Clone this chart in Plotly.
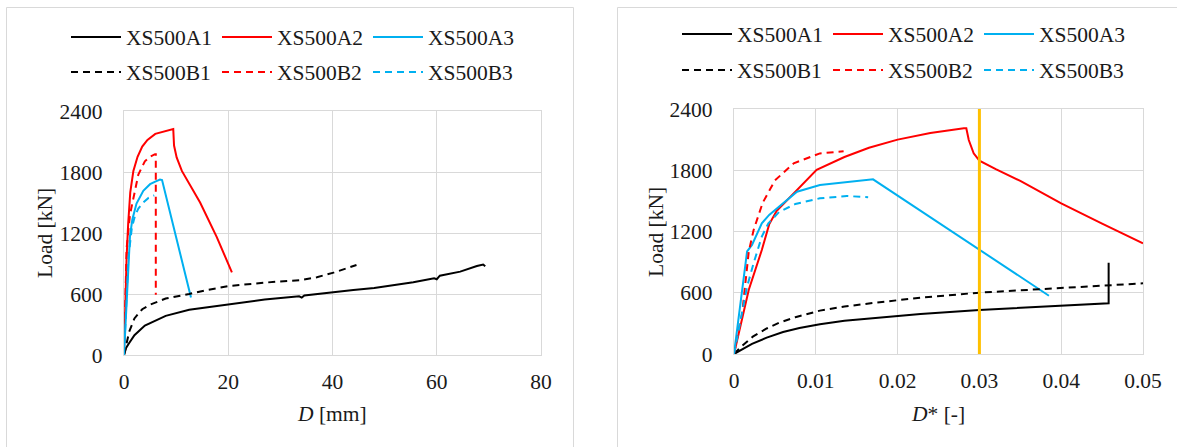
import plotly.graph_objects as go

# ---- load vs. displacement D [mm] ----
d_A1 = [0, 0.4, 0.9, 2, 4, 8, 12.5, 17.5, 21, 27, 33.6, 34.1, 34.6, 40.2, 44, 48, 51.7, 55.5, 59.5, 60, 60.6, 64.5, 67.7, 68.9, 69.3]
p_A1 = [0, 70, 110, 195, 290, 385, 445, 480, 505, 545, 578, 565, 585, 620, 640, 660, 685, 715, 755, 745, 780, 820, 875, 890, 872]

d_A2 = [0, 0.2, 0.5, 0.8, 1.2, 1.8, 2.6, 3.5, 4.5, 6, 8, 9.45, 9.6, 10.1, 11.1, 14.6, 17.8, 20.7]
p_A2 = [0, 450, 960, 1290, 1600, 1810, 1950, 2050, 2115, 2175, 2205, 2222, 2060, 1943, 1811, 1500, 1160, 813]

d_A3 = [0, 0.2, 0.5, 0.83, 1.15, 1.6, 2.4, 3.7, 5.0, 6.0, 6.9, 7.3, 12.85]
p_A3 = [0, 220, 600, 960, 1170, 1333, 1490, 1615, 1680, 1705, 1725, 1720, 566]

d_B1 = [0, 0.3, 1, 2, 3.5, 5, 8, 12.5, 16, 20.3, 25, 29.3, 33.8, 37, 40.2, 44.6]
p_B1 = [0, 80, 230, 360, 450, 495, 555, 600, 640, 680, 705, 722, 735, 765, 810, 885]

d_B2 = [0, 0.2, 0.5, 1.15, 2.1, 2.75, 4.0, 5.0, 5.95, 6.1, 6.1]
p_B2 = [0, 550, 1050, 1380, 1610, 1775, 1905, 1950, 1975, 1975, 593]

d_B3 = [0, 0.3, 0.83, 1.5, 2.1, 2.75, 3.7, 4.7, 5.8]
p_B3 = [0, 400, 950, 1250, 1370, 1440, 1500, 1545, 1570]

# ---- load vs. normalised displacement D* [-] ----
n_A1 = [0, 0.001, 0.0022, 0.004, 0.006, 0.008, 0.0105, 0.0135, 0.0167, 0.0228, 0.03, 0.038, 0.0458, 0.0458]
q_A1 = [0, 45, 100, 160, 215, 255, 292, 325, 350, 392, 431, 465, 497, 894]

n_A2 = [0, 0.0009, 0.0018, 0.0034, 0.0043, 0.0052, 0.0065, 0.0085, 0.0101, 0.0135, 0.0165, 0.02, 0.024, 0.0281, 0.0284, 0.0287, 0.0293, 0.03, 0.032, 0.035, 0.04, 0.045, 0.05]
q_A2 = [0, 300, 627, 1019, 1270, 1400, 1510, 1670, 1805, 1930, 2020, 2100, 2165, 2211, 2211, 2096, 1966, 1894, 1810, 1695, 1476, 1278, 1084]

n_A3 = [0, 0.0016, 0.0022, 0.0034, 0.0043, 0.0055, 0.0077, 0.0105, 0.0126, 0.017, 0.0385]
q_A3 = [0, 1005, 1068, 1280, 1362, 1443, 1590, 1656, 1672, 1711, 571]

n_B1 = [0, 0.001, 0.0023, 0.004, 0.0055, 0.0075, 0.0105, 0.0135, 0.0167, 0.0228, 0.03, 0.0456, 0.05]
q_B1 = [0, 80, 170, 250, 305, 360, 425, 465, 497, 552, 601, 669, 692]

n_B2 = [0, 0.001, 0.0018, 0.0024, 0.0035, 0.005, 0.0073, 0.0105, 0.0134]
q_B2 = [0, 400, 1000, 1215, 1480, 1700, 1868, 1965, 1985]

n_B3 = [0, 0.001, 0.0016, 0.0024, 0.0034, 0.0042, 0.0055, 0.0075, 0.0105, 0.0138, 0.0164]
q_B3 = [0, 400, 660, 890, 1150, 1280, 1390, 1470, 1525, 1548, 1535]

names = ["XS500A1", "XS500A2", "XS500A3", "XS500B1", "XS500B2", "XS500B3"]
colors = ["#000000", "#FF0000", "#00B0F0", "#000000", "#FF0000", "#00B0F0"]
dashes = ["solid", "solid", "solid", "7px,5px", "7px,5px", "7px,5px"]

left_x = [d_A1, d_A2, d_A3, d_B1, d_B2, d_B3]
left_y = [p_A1, p_A2, p_A3, p_B1, p_B2, p_B3]
right_x = [n_A1, n_A2, n_A3, n_B1, n_B2, n_B3]
right_y = [q_A1, q_A2, q_A3, q_B1, q_B2, q_B3]

D_STAR_LIMIT = 0.03
LOAD_MAX = 2400

W, H = 1177, 447
FONT = "Liberation Serif, Times New Roman, serif"
FSIZE = 21.5
TXT = "#1a1a1a"
GRID = "#D9D9D9"


def fx(px):
    return px / W


def fy(py):
    return 1 - py / H


fig = go.Figure()

for i in range(6):
    row = "" if i < 3 else "2"
    fig.add_trace(go.Scatter(
        x=left_x[i], y=left_y[i], mode="lines", name=names[i],
        line=dict(color=colors[i], width=2, dash=dashes[i]),
        xaxis="x", yaxis="y", legend="legend" + row,
    ))
for i in range(6):
    row = "3" if i < 3 else "4"
    fig.add_trace(go.Scatter(
        x=right_x[i], y=right_y[i], mode="lines", name=names[i],
        line=dict(color=colors[i], width=2, dash=dashes[i]),
        xaxis="x2", yaxis="y2", legend="legend" + row,
    ))

# reference limit on the normalised displacement
fig.add_trace(go.Scatter(
    x=[D_STAR_LIMIT, D_STAR_LIMIT], y=[0, LOAD_MAX], mode="lines",
    line=dict(color="#FFC000", width=3), showlegend=False,
    xaxis="x2", yaxis="y2",
))

axis_common = dict(
    showgrid=True, gridcolor=GRID, gridwidth=1.3,
    showline=True, linecolor=GRID, linewidth=1.3, mirror=True,
    zeroline=False, ticks="", automargin=False,
    tickfont=dict(family=FONT, size=FSIZE, color=TXT),
)

legend_common = dict(
    orientation="h", xanchor="left", yanchor="middle",
    font=dict(family=FONT, size=FSIZE, color=TXT),
    bgcolor="rgba(0,0,0,0)", itemwidth=50,
    entrywidth=86, entrywidthmode="pixels",
    itemclick=False, itemdoubleclick=False,
)

title_font = dict(family=FONT, size=FSIZE, color=TXT)

fig.update_layout(
    width=W, height=H,
    margin=dict(l=0, r=0, t=0, b=0),
    paper_bgcolor="white", plot_bgcolor="white",
    xaxis=dict(domain=[fx(124), fx(541)], range=[0, 80], dtick=20,
               anchor="y", ticklabelstandoff=7, **axis_common),
    yaxis=dict(domain=[fy(355), fy(111)], range=[0, LOAD_MAX], dtick=600,
               anchor="x", ticklabelstandoff=16, **axis_common),
    xaxis2=dict(domain=[fx(734), fx(1143)], range=[0, 0.05], dtick=0.01,
                anchor="y2", ticklabelstandoff=7, **axis_common),
    yaxis2=dict(domain=[fy(354), fy(109)], range=[0, LOAD_MAX], dtick=600,
                anchor="x2", ticklabelstandoff=16, **axis_common),
    legend=dict(x=fx(66), y=fy(37), **legend_common),
    legend2=dict(x=fx(66), y=fy(72), **legend_common),
    legend3=dict(x=fx(677), y=fy(34), **legend_common),
    legend4=dict(x=fx(677), y=fy(70), **legend_common),
    shapes=[
        dict(type="rect", xref="paper", yref="paper", layer="below",
             x0=fx(6.5), x1=fx(573.5), y0=-0.1, y1=fy(7.5),
             line=dict(color=GRID, width=1), fillcolor="rgba(0,0,0,0)"),
        dict(type="rect", xref="paper", yref="paper", layer="below",
             x0=fx(617.5), x1=1.1, y0=-0.1, y1=fy(7.5),
             line=dict(color=GRID, width=1), fillcolor="rgba(0,0,0,0)"),
    ],
    annotations=[
        dict(text="<i>D</i> [mm]", x=fx(332), y=fy(414), xref="paper", yref="paper",
             showarrow=False, xanchor="center", yanchor="middle", font=title_font),
        dict(text="<i>D</i>* [-]", x=fx(938), y=fy(414), xref="paper", yref="paper",
             showarrow=False, xanchor="center", yanchor="middle", font=title_font),
        dict(text="Load [kN]", x=fx(45), y=fy(233), xref="paper", yref="paper",
             showarrow=False, xanchor="center", yanchor="middle", textangle=-90,
             font=title_font),
        dict(text="Load [kN]", x=fx(656), y=fy(232), xref="paper", yref="paper",
             showarrow=False, xanchor="center", yanchor="middle", textangle=-90,
             font=title_font),
    ],
)

fig.write_html("out.html")
